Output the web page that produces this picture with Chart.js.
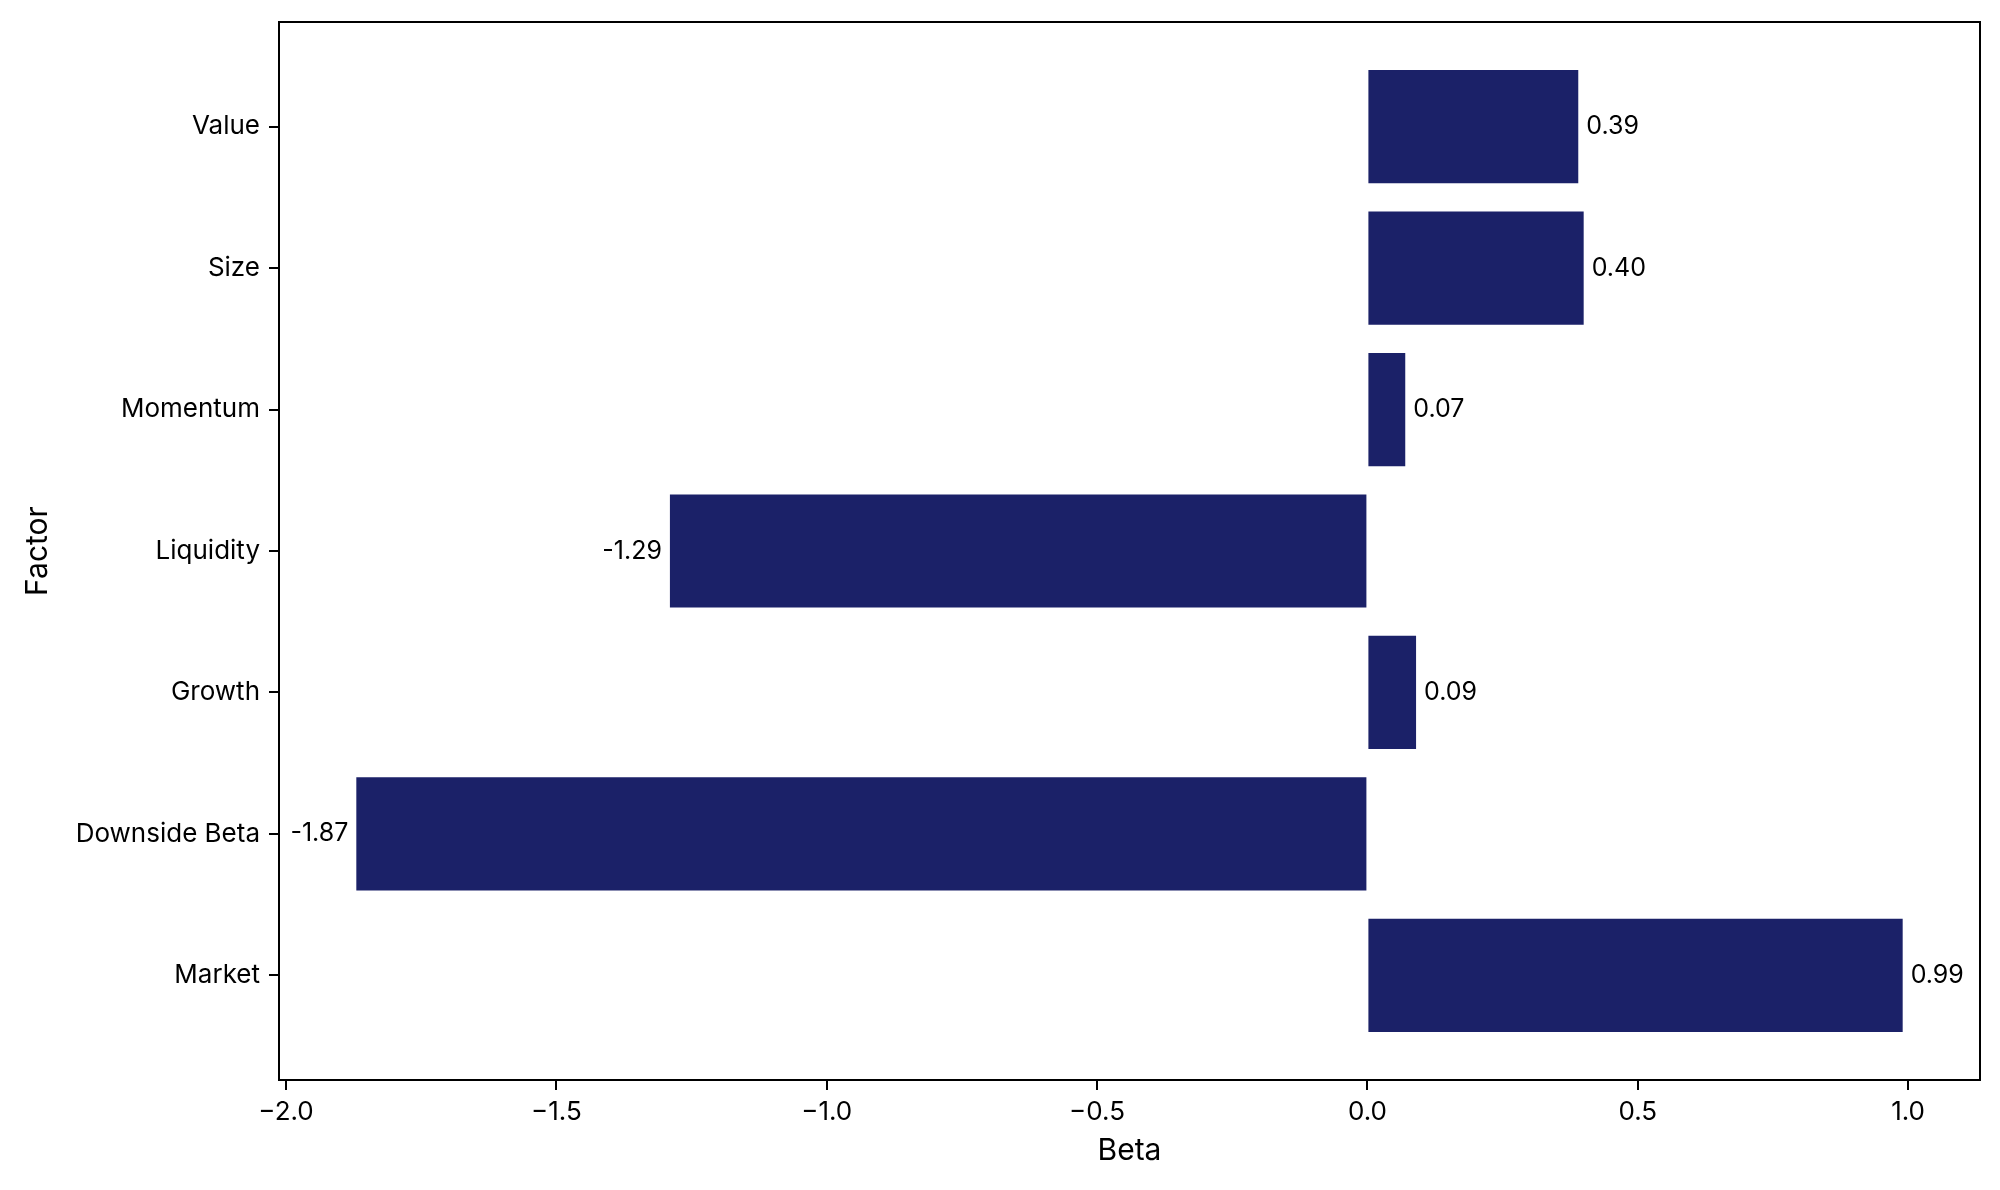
<!DOCTYPE html>
<html>
<head>
<meta charset="utf-8">
<script src="https://cdn.jsdelivr.net/npm/chart.js@4.4.1/dist/chart.umd.min.js"></script>
<style>
  html, body { margin: 0; padding: 0; background: #fff; }
  #wrap { width: 2000px; height: 1190px; }
</style>
</head>
<body>
<div id="wrap"><canvas id="chart" width="2000" height="1190"></canvas></div>
<script>
// Factor betas, bottom to top as drawn
const factors = ['Market', 'Downside Beta', 'Growth', 'Liquidity', 'Momentum', 'Size', 'Value'];
const betas = [0.99, -1.87, 0.09, -1.29, 0.07, 0.40, 0.39];
const xTicks = [-2.0, -1.5, -1.0, -0.5, 0.0, 0.5, 1.0];

const barColor = '#1b2168';
const fontFamily = 'Inter, "Liberation Sans", sans-serif';

// bar end labels (e.g. "0.39", "-1.87")
const valueLabels = {
    id: 'valueLabels',
    afterDatasetsDraw(chart) {
        const ctx = chart.ctx;
        const meta = chart.getDatasetMeta(0);
        ctx.save();
        ctx.font = '25px ' + fontFamily;
        ctx.fillStyle = '#000';
        ctx.textBaseline = 'middle';
        meta.data.forEach((bar, i) => {
            const v = betas[i];
            if (v >= 0) {
                ctx.textAlign = 'left';
                ctx.fillText(v.toFixed(2), bar.x + 8, bar.y);
            } else {
                ctx.textAlign = 'right';
                ctx.fillText(v.toFixed(2), bar.x - 8, bar.y);
            }
        });
        ctx.restore();
    }
};

// full box around the plot area
const frame = {
    id: 'frame',
    afterDraw(chart) {
        const { left, top, right, bottom } = chart.chartArea;
        const ctx = chart.ctx;
        ctx.save();
        ctx.strokeStyle = '#000';
        ctx.lineWidth = 2;
        ctx.strokeRect(left, top, right - left, bottom - top);
        ctx.restore();
    }
};

new Chart(document.getElementById('chart'), {
    type: 'bar',
    data: {
        datasets: [{
            data: factors.map((f, i) => ({ x: betas[i], y: i })),
            backgroundColor: barColor,
            borderWidth: 0,
            categoryPercentage: 1.0,
            barPercentage: 0.8
        }]
    },
    options: {
        indexAxis: 'y',
        responsive: false,
        animation: false,
        layout: { padding: { top: 19, right: 20, left: 0, bottom: 0 } },
        plugins: {
            legend: { display: false },
            tooltip: { enabled: false }
        },
        scales: {
            x: {
                type: 'linear',
                min: -2.013,
                max: 1.133,
                offset: false,
                afterBuildTicks: (axis) => { axis.ticks = xTicks.map(v => ({ value: v })); },
                afterFit: (axis) => { axis.height = 110; },
                grid: { offset: false, drawOnChartArea: false, drawTicks: true, color: '#000', lineWidth: 2, tickLength: 10 },
                border: { display: true, color: '#000', width: 2 },
                ticks: {
                    color: '#000',
                    padding: 7,
                    font: { family: fontFamily, size: 26 },
                    callback: (v) => v.toFixed(1).replace('-', '\u2212')
                },
                title: {
                    display: true,
                    text: 'Beta',
                    color: '#000',
                    font: { family: fontFamily, size: 30 },
                    padding: { top: 0, bottom: 21 }
                }
            },
            y: {
                type: 'linear',
                min: -0.74,
                max: 6.74,
                offset: false,
                afterBuildTicks: (axis) => { axis.ticks = factors.map((f, i) => ({ value: i })); },
                afterFit: (axis) => { axis.width = 279; },
                grid: { offset: false, drawOnChartArea: false, drawTicks: true, color: '#000', lineWidth: 2, tickLength: 10 },
                border: { display: true, color: '#000', width: 2 },
                ticks: {
                    color: '#000',
                    padding: 9,
                    font: { family: fontFamily, size: 26, lineHeight: 1 },
                    callback: (v) => factors[v]
                },
                title: {
                    display: true,
                    text: 'Factor',
                    color: '#000',
                    font: { family: fontFamily, size: 30 },
                    padding: { top: 20, bottom: 0 }
                }
            }
        }
    },
    plugins: [valueLabels, frame]
});
</script>
</body>
</html>
